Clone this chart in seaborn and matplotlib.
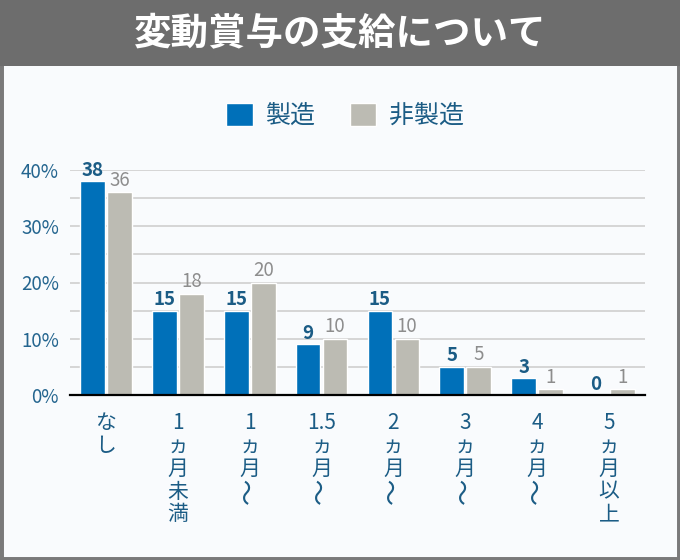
import matplotlib
matplotlib.use("Agg")
import matplotlib.pyplot as plt
import matplotlib.transforms as mtransforms
from matplotlib.patches import Rectangle
import seaborn as sns
import pandas as pd

categories = ["なし", "1ヵ月未満", "1ヵ月〜", "1.5ヵ月〜", "2ヵ月〜", "3ヵ月〜", "4ヵ月〜", "5ヵ月以上"]
label_main = ["な\nし", "1\nヵ\n月\n未\n満", "1\nヵ\n月", "1.5\nヵ\n月", "2\nヵ\n月",
              "3\nヵ\n月", "4\nヵ\n月", "5\nヵ\n月\n以\n上"]
label_wave = [False, False, True, True, True, True, True, False]
series_names = ["製造", "非製造"]
manufacturing = [38, 15, 15, 9, 15, 5, 3, 0]
non_manufacturing = [36, 18, 20, 10, 10, 5, 1, 1]
title = "変動賞与の支給について"
yticks = [0, 10, 20, 30, 40]

BLUE = "#0070b9"
GRAY = "#bcbbb3"
LBLUE = "#1b5c85"
LGRAY = "#8d8d8d"
TICKC = "#24658f"

sns.set_theme(style="white")
plt.rcParams["font.family"] = ["Noto Sans CJK JP", "DejaVu Sans"]

df = pd.DataFrame({
    "category": categories * 2,
    "series": [series_names[0]] * len(categories) + [series_names[1]] * len(categories),
    "value": manufacturing + non_manufacturing,
})

W, H = 680, 560
fig = plt.figure(figsize=(W / 100, H / 100), dpi=100)
fig.patch.set_facecolor("#f9fbfd")

# frame and header
fig.add_artist(Rectangle((0, 0), 1, 1, transform=fig.transFigure, facecolor="none",
                         edgecolor="#7a7a7a", linewidth=5, zorder=0))
fig.add_artist(Rectangle((0, 1 - 66 / H), 1, 66 / H, transform=fig.transFigure,
                         facecolor="#6d6d6d", edgecolor="none", zorder=1))
fig.text(0.5, 1 - 34 / H, title, color="white", fontsize=27, fontweight="bold",
         ha="center", va="center")

ax = fig.add_axes([70 / W, 1 - 395 / H, 575 / W, 225 / H])
ax.set_facecolor("none")

sns.barplot(data=df, x="category", y="value", hue="series", order=categories,
            hue_order=series_names, palette=[BLUE, GRAY], width=0.75, gap=0.08,
            saturation=1, ax=ax, legend=True)

ax.set_xlim(-0.5, len(categories) - 0.5)
ax.set_ylim(0, 40)
for v in range(5, 41, 5):
    ax.axhline(v, color="#cfcfcf", linewidth=1.2, zorder=0)
ax.set_yticks(yticks)
ax.set_yticklabels([f"{t}%" for t in yticks], color=TICKC, fontsize=13.5)
ax.tick_params(axis="y", length=0, pad=8)
ax.set_xticks([])
ax.set_xlabel("")
ax.set_ylabel("")
for s in ["top", "right", "left"]:
    ax.spines[s].set_visible(False)
ax.spines["bottom"].set_color("black")
ax.spines["bottom"].set_linewidth(1.6)
ax.spines["bottom"].set_zorder(5)

containers = ax.containers
ax.bar_label(containers[0], labels=[str(v) for v in manufacturing], padding=1,
             color=LBLUE, fontsize=13.5, fontweight="semibold", clip_on=False)
ax.bar_label(containers[1], labels=[str(v) for v in non_manufacturing], padding=1,
             color=LGRAY, fontsize=13.5, clip_on=False)

# legend
handles, labels = ax.get_legend_handles_labels()
ax.legend(handles, labels, loc="center", bbox_to_anchor=(345 / W, 1 - 116 / H),
          bbox_transform=fig.transFigure, ncol=2, frameon=False, fontsize=18,
          handlelength=1.05, handleheight=1.05, handletextpad=0.5, columnspacing=1.4,
          labelcolor=LBLUE)

# vertical x labels
trans = mtransforms.blended_transform_factory(ax.transData, fig.transFigure)
for i, (txt, wave) in enumerate(zip(label_main, label_wave)):
    ax.text(i, 1 - 412 / H, txt, color=LBLUE, ha="center", va="top", transform=trans,
            fontsize=15, linespacing=1.05, multialignment="center")
    if wave:
        ax.text(i, 1 - 491 / H, "〜", color=LBLUE, ha="center", va="center",
                transform=trans, fontsize=19, rotation=90)

fig.savefig("out.png", dpi=100, facecolor=fig.get_facecolor())
